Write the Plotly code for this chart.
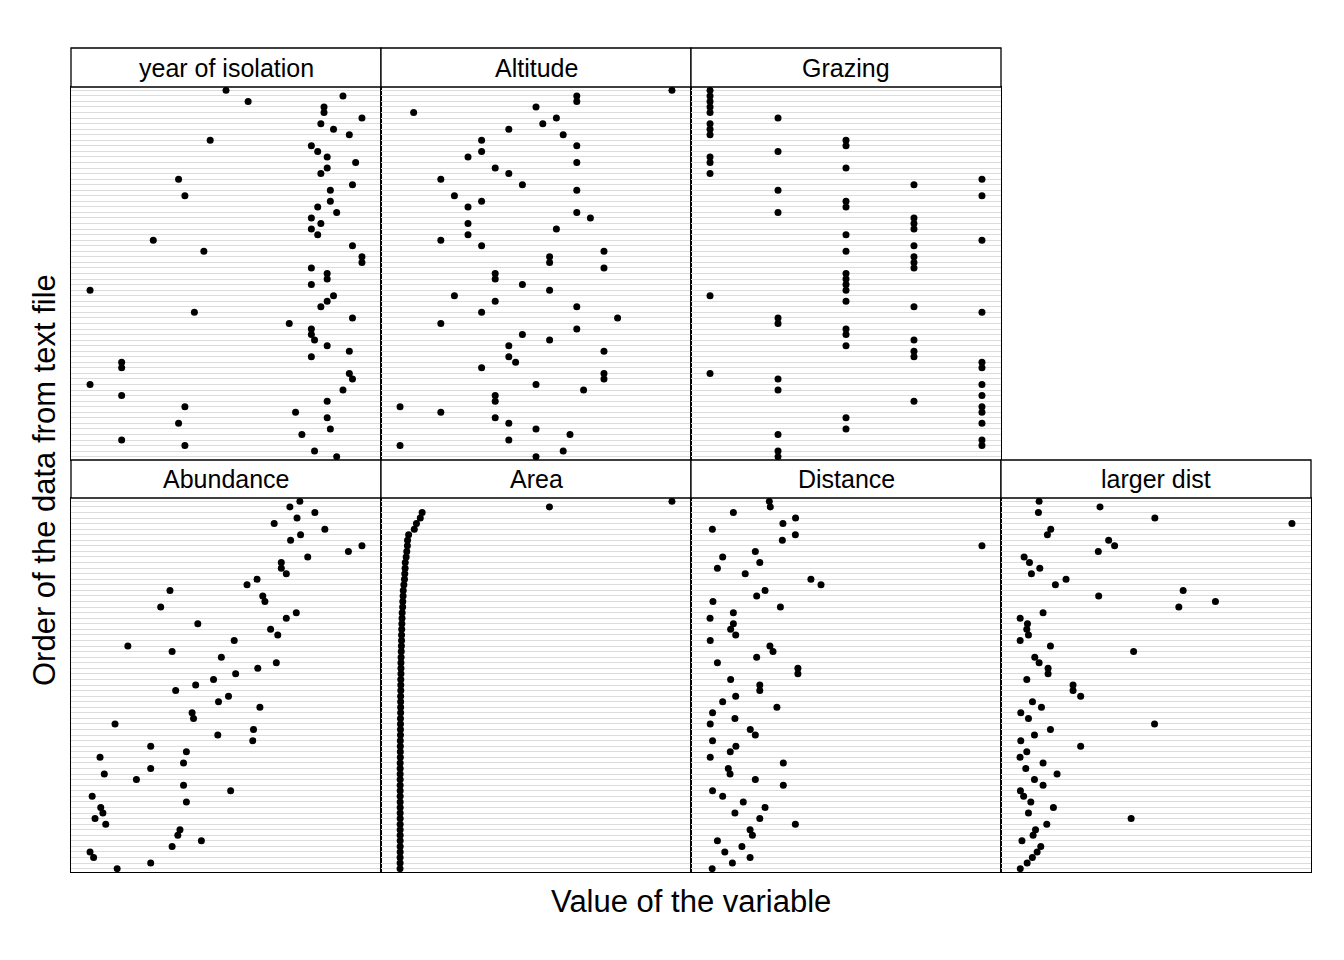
import plotly.graph_objects as go

W, H = 1344, 960
OFF = 8  # page body margin in the browser
FONT = "Liberation Sans, Arial, Helvetica, sans-serif"
GRID = "#DCDCDC"

# observation order (row in the text file), bottom to top
OBS = list(range(1, 68))

ABUND = [5.3, 10.0, 2.0, 1.5, 13.0, 17.1, 13.8, 14.1, 3.7, 2.2, 3.3, 3.0, 15.0, 1.8, 21.2, 14.6,
         8.0, 3.5, 10.0, 14.6, 2.9, 15.0, 10.0, 24.3, 19.4, 24.4, 5.0, 16.0, 15.8, 25.3, 19.5, 20.9,
         13.5, 16.3, 18.8, 21.9, 25.0, 27.6, 19.9, 13.0, 6.8, 21.7, 27.8, 26.8, 16.6, 29.0, 30.4, 11.4,
         26.0, 25.7, 12.7, 23.5, 24.9, 29.0, 28.3, 28.3, 32.0, 37.7, 39.6, 29.6, 31.0, 34.4, 27.3, 30.5,
         33.0, 29.5, 30.9]

AREA = [0.1, 0.5, 0.5, 1, 1, 1, 1, 1, 1, 1, 1, 1, 1, 1, 1, 1, 1, 1, 1, 1,
        2, 2, 2, 2, 3, 3, 3, 3, 4, 4, 4, 4, 5, 5, 5, 6, 6, 6, 7, 8,
        9, 10, 10, 11, 12, 13, 14, 17, 18, 20, 21, 25, 29, 31, 33, 34, 40, 44, 48, 49,
        56, 93, 107, 132, 144, 973, 1771]

DIST = [39, 143, 234, 104, 192, 66, 246, 234, 467, 284, 156, 311, 199, 93, 41, 405,
        261, 131, 122, 405, 29, 132, 161, 41, 261, 235, 29, 156, 41, 372, 93, 160,
        284, 284, 134, 480, 480, 66, 268, 352, 336, 29, 160, 134, 148, 28, 148, 390,
        43, 268, 311, 599, 547, 209, 66, 284, 93, 261, 1427, 400, 467, 40, 403, 468,
        148, 338, 333]

LDIST = [39, 150, 234, 311, 370, 66, 246, 285, 467, 1829, 171, 574, 209, 93, 41, 407,
         268, 633, 128, 407, 35, 144, 1014, 47, 268, 526, 2207, 171, 47, 381, 236, 1014,
         891, 891, 144, 488, 488, 343, 273, 1869, 526, 37, 171, 144, 155, 37, 407, 2599,
         3190, 1305, 2669, 606, 778, 219, 354, 187, 101, 1299, 1562, 1466, 477, 531, 4426, 2212,
         332, 1326, 343]

YR_ISOL = [1968, 1961, 1920, 1900, 1957, 1966, 1918, 1965, 1955, 1920, 1965, 1900, 1970, 1890, 1973, 1972,
           1900, 1900, 1960, 1972, 1965, 1961, 1960, 1960, 1953, 1973, 1923, 1963, 1965, 1967, 1890, 1960,
           1965, 1965, 1960, 1976, 1976, 1926, 1973, 1910, 1962, 1960, 1963, 1960, 1968, 1962, 1966, 1920,
           1966, 1973, 1918, 1963, 1965, 1974, 1965, 1962, 1960, 1928, 1972, 1967, 1963, 1976, 1964, 1964,
           1940, 1970, 1933]

GRAZE = [2, 2, 5, 5, 2, 3, 5, 3, 5, 5, 4, 5, 2, 5, 2, 1,
         5, 5, 4, 4, 3, 4, 3, 3, 2, 2, 5, 4, 3, 1, 3, 3,
         3, 3, 4, 4, 4, 3, 4, 5, 3, 4, 4, 4, 2, 3, 3, 5,
         2, 4, 5, 1, 3, 1, 1, 2, 3, 3, 1, 1, 1, 2, 1, 1,
         1, 1, 1]

ALT = [160, 180, 60, 140, 185, 160, 140, 130, 90, 60, 130, 130, 195, 160, 210, 210,
       120, 145, 140, 210, 140, 170, 150, 190, 90, 220, 120, 190, 130, 100, 170, 150,
       130, 130, 210, 170, 170, 210, 120, 90, 110, 175, 110, 200, 190, 110, 120, 100,
       190, 150, 90, 140, 130, 190, 110, 120, 190, 120, 180, 140, 165, 175, 70, 160,
       190, 190, 260]

# panel title, values, column, row
PANELS = [
    ("year of isolation", YR_ISOL, 0, "top"),
    ("Altitude", ALT, 1, "top"),
    ("Grazing", GRAZE, 2, "top"),
    ("Abundance", ABUND, 0, "bottom"),
    ("Area", AREA, 1, "bottom"),
    ("Distance", DIST, 2, "bottom"),
    ("larger dist", LDIST, 3, "bottom"),
]

COL_EDGES = [71, 381, 691, 1001, 1311]
ROWS = {"top": (48, 87, 460), "bottom": (460, 498, 872)}  # strip top, panel top, panel bottom (px)

FW, FH = W - OFF, H - OFF


def px_x(p):
    return (p - OFF) / FW


def px_y(p):
    return 1 - (p - OFF) / FH


fig = go.Figure()
layout = {}
shapes = []
annots = []

for i, (name, vals, col, row) in enumerate(PANELS, start=1):
    sfx = "" if i == 1 else str(i)
    s_top, p_top, p_bot = ROWS[row]
    x0, x1 = COL_EDGES[col], COL_EDGES[col + 1]

    fig.add_trace(go.Scatter(x=vals, y=OBS, mode="markers",
                             marker=dict(color="black", size=7),
                             xaxis="x" + sfx, yaxis="y" + sfx,
                             showlegend=False, hoverinfo="x+y"))

    lo, hi = min(vals), max(vals)
    pad = 0.07 * (hi - lo)
    layout["xaxis" + sfx] = dict(domain=[px_x(x0), px_x(x1)], anchor="y" + sfx,
                                 range=[lo - pad, hi + pad], showticklabels=False, ticks="",
                                 showgrid=False, zeroline=False, showline=True, mirror=True,
                                 linecolor="black", linewidth=1.3)
    layout["yaxis" + sfx] = dict(domain=[px_y(p_bot), px_y(p_top)], anchor="x" + sfx,
                                 range=[0.4, len(OBS) + 0.6], tickvals=OBS, showticklabels=False,
                                 ticks="", showgrid=True, gridcolor=GRID, gridwidth=1.3,
                                 zeroline=False, showline=True, mirror=True,
                                 linecolor="black", linewidth=1.3)

    # strip
    shapes.append(dict(type="rect", xref="paper", yref="paper",
                       x0=px_x(x0), x1=px_x(x1), y0=px_y(p_top), y1=px_y(s_top),
                       fillcolor="white", line=dict(color="black", width=1.3), layer="above"))
    annots.append(dict(text=name, xref="paper", yref="paper",
                       x=px_x((x0 + x1) / 2), y=px_y((s_top + p_top) / 2),
                       xanchor="center", yanchor="middle", showarrow=False,
                       font=dict(size=25, color="black")))

annots.append(dict(text="Value of the variable", xref="paper", yref="paper",
                   x=px_x(691), y=px_y(901), xanchor="center", yanchor="middle",
                   showarrow=False, font=dict(size=31, color="black")))
annots.append(dict(text="Order of the data from text file", xref="paper", yref="paper",
                   x=px_x(44), y=px_y(480), xanchor="center", yanchor="middle", textangle=-90,
                   showarrow=False, font=dict(size=31, color="black")))

fig.update_layout(**layout)
fig.update_layout(width=FW, height=FH, margin=dict(l=0, r=0, t=0, b=0),
                  paper_bgcolor="white", plot_bgcolor="white",
                  font=dict(family=FONT, color="black"),
                  shapes=shapes, annotations=annots, showlegend=False)

fig.write_html("out.html")
